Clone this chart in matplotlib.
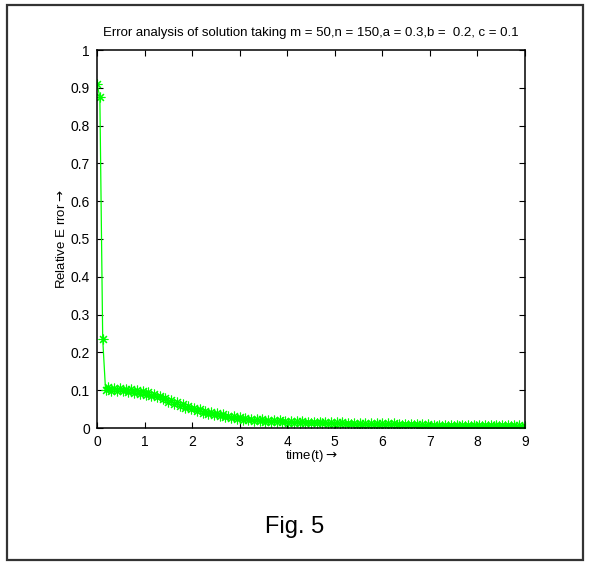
import numpy as np
import matplotlib
matplotlib.use("Agg")
import matplotlib.pyplot as plt
from matplotlib.patches import Rectangle

plt.rcParams['font.family'] = ['Liberation Sans', 'DejaVu Sans']
plt.rcParams['mathtext.fontset'] = 'dejavusans'

# time grid: n = 150 steps on [0, 9]
t_end = 9.0
n_steps = 150
time = np.linspace(0.0, t_end, n_steps + 1)

rel_error = [
    0.910, 0.876, 0.235, 0.100, 0.108, 0.098, 0.107, 0.099, 0.106, 0.097,
    0.104, 0.095, 0.102, 0.093, 0.100, 0.091, 0.097, 0.088, 0.094, 0.085,
    0.090, 0.081, 0.085, 0.076, 0.080, 0.070, 0.074, 0.064, 0.068, 0.059,
    0.063, 0.054, 0.058, 0.049, 0.054, 0.045, 0.050, 0.041, 0.046, 0.038,
    0.042, 0.034, 0.039, 0.031, 0.036, 0.029, 0.033, 0.026, 0.031, 0.024,
    0.029, 0.022, 0.027, 0.021, 0.025, 0.019, 0.024, 0.018, 0.023, 0.017,
    0.022, 0.016, 0.021, 0.015, 0.020, 0.015, 0.019, 0.014, 0.019, 0.014,
    0.018, 0.013, 0.018, 0.013, 0.017, 0.012, 0.017, 0.012, 0.016, 0.012,
    0.016, 0.011, 0.015, 0.011, 0.015, 0.010, 0.015, 0.010, 0.014, 0.010,
    0.014, 0.009, 0.014, 0.009, 0.013, 0.009, 0.013, 0.009, 0.013, 0.008,
    0.012, 0.008, 0.012, 0.008, 0.012, 0.008, 0.011, 0.007, 0.011, 0.007,
    0.011, 0.007, 0.010, 0.006, 0.010, 0.006, 0.010, 0.006, 0.009, 0.006,
    0.009, 0.005, 0.009, 0.005, 0.009, 0.005, 0.009, 0.005, 0.008, 0.005,
    0.008, 0.005, 0.008, 0.004, 0.008, 0.004, 0.008, 0.004, 0.007, 0.004,
    0.007, 0.004, 0.007, 0.004, 0.007, 0.004, 0.007, 0.003, 0.007, 0.003,
    0.006,
]

xticks = [0, 1, 2, 3, 4, 5, 6, 7, 8, 9]
yticks = [0, 0.1, 0.2, 0.3, 0.4, 0.5, 0.6, 0.7, 0.8, 0.9, 1]
ytick_labels = ['0', '0.1', '0.2', '0.3', '0.4', '0.5', '0.6', '0.7', '0.8', '0.9', '1']

fig = plt.figure(figsize=(5.9, 5.65), dpi=100)
fig.patch.set_facecolor('white')

# outer frame around the whole figure
fig.patches.append(Rectangle((7 / 590, 5 / 565), 576 / 590, 555 / 565,
                             transform=fig.transFigure, fill=False,
                             edgecolor='#333333', linewidth=1.6))

ax = fig.add_axes([97 / 590, 1 - 428 / 565, 428 / 590, 378 / 565])
# eight-spoke asterisk markers joined by a thin line
ax.plot(time, rel_error, color='#00ff00', linewidth=0.9, marker=(8, 2, 0),
        markersize=7, markeredgewidth=0.8)

ax.set_xlim(0, 9)
ax.set_ylim(0, 1)
ax.set_xticks(xticks)
ax.set_yticks(yticks)
ax.set_yticklabels(ytick_labels)
ax.tick_params(direction='in', length=4, width=0.8, labelsize=10,
               top=True, right=True, pad=5)
for s in ax.spines.values():
    s.set_linewidth(1.1)
    s.set_color('black')

ax.set_title('Error analysis of solution taking m = 50,n = 150,a = 0.3,b =  0.2, c = 0.1',
             fontsize=9.5, pad=10)
arrow = r'$\rightarrow$'
ax.set_xlabel('time(t)' + arrow, fontsize=9.5, labelpad=-1)
ax.set_ylabel('Relative E rror' + arrow, fontsize=9.5, labelpad=2)

fig.text(0.5, 1 - 527 / 565, 'Fig. 5', ha='center', va='center', fontsize=17,
         family=['Liberation Sans Narrow', 'Liberation Sans', 'DejaVu Sans'])

fig.savefig('out.png', dpi=100)
